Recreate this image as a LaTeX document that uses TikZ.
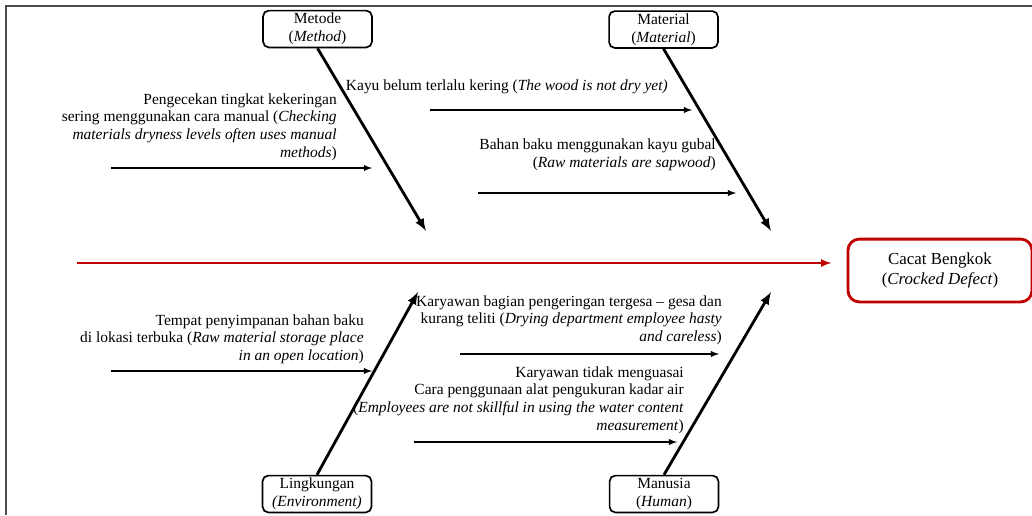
\documentclass[tikz,border=0pt]{standalone}
\usepackage{fontspec}
\setmainfont{Liberation Serif}
\usepackage{tikz}
\usetikzlibrary{shapes, arrows}

\definecolor{defectred}{RGB}{192,0,0}

\begin{document}
\begin{tikzpicture}[
    x=0.025cm, y=-0.025cm,
    >=latex,
    category/.style={rectangle, rounded corners=4pt, draw, line width=1.2pt, minimum width=2.72cm, minimum height=0.92cm, inner sep=1pt, align=center, font=\fontsize{11}{12.8}\selectfont},
    effect/.style={rectangle, rounded corners=8pt, draw=defectred, line width=2pt, minimum width=4.6cm, minimum height=1.57cm, align=center, font=\fontsize{12}{14.8}\selectfont},
    cause/.style={inner sep=0pt, anchor=east, align=right, font=\fontsize{11}{12.5}\selectfont},
    spine/.style={->, defectred, line width=1.5pt},
    bone/.style={->, line width=2pt},
    arrow/.style={->, line width=1pt}
]
    \useasboundingbox (0,0) rectangle (1032,515);
    \draw[line width=1.2pt, black!70] (6,515) -- (6,6) -- (1032,6);

    % Head
    \node[effect] (defect) at (940,270.5) {Cacat Bengkok\\(\textit{Crocked Defect})};

    % Categories
    \node[category] (metode) at (317.5,29) {Metode\\(\textit{Method})};
    \node[category] (material) at (663.5,29.5) {Material\\(\textit{Material})};
    \node[category] (lingkungan) at (317,494) {Lingkungan\\\textit{(Environment)}};
    \node[category] (manusia) at (664,494) {Manusia\\(\textit{Human})};

    % Causes
    \node[cause] (cMetode) at (337,127) {Pengecekan tingkat kekeringan\\sering menggunakan cara manual (\textit{Checking}\\\textit{materials dryness levels often uses manual}\\\textit{methods})};
    \node[cause] (cKayu) at (668,87) {Kayu belum terlalu kering (\textit{The wood is not dry yet)}};
    \node[cause] (cGubal) at (716,155) {Bahan baku menggunakan kayu gubal\\(\textit{Raw materials are sapwood})};
    \node[cause] (cLokasi) at (364,339) {Tempat penyimpanan bahan baku\\di lokasi terbuka (\textit{Raw material storage place}\\\textit{in an open location})};
    \node[cause] (cTergesa) at (722,320) {Karyawan bagian pengeringan tergesa -- gesa dan\\kurang teliti (\textit{Drying department employee hasty}\\\textit{and careless})};
    \node[cause] (cAlat) at (684,400) {Karyawan tidak menguasai\\Cara penggunaan alat pengukuran kadar air\\(\textit{Employees are not skillful in using the water content}\\\textit{measurement})};

    % Arrow ends
    \coordinate (tail) at (77,263);
    \coordinate (tipMetode) at (426,231);
    \coordinate (tipMaterial) at (771,231);
    \coordinate (tipLingkungan) at (418,292);
    \coordinate (tipManusia) at (771,292);
    \coordinate (sMetode) at (111,168);   \coordinate (eMetode) at (372,168);
    \coordinate (sKayu) at (430,110);     \coordinate (eKayu) at (692,110);
    \coordinate (sGubal) at (478,193);    \coordinate (eGubal) at (736,193);
    \coordinate (sLokasi) at (111,371);   \coordinate (eLokasi) at (372,371);
    \coordinate (sTergesa) at (460,354);  \coordinate (eTergesa) at (719,354);
    \coordinate (sAlat) at (414,442);     \coordinate (eAlat) at (677,442);

    % Arrows
    \draw[spine] (tail) -- ([xshift=-0.38cm] tail -| defect.west);
    \draw[bone] (metode.south) -- (tipMetode);
    \draw[bone] (material.south) -- (tipMaterial);
    \draw[bone] (lingkungan.north) -- (tipLingkungan);
    \draw[bone] (manusia.north) -- (tipManusia);
    \draw[arrow] (sMetode) -- (eMetode);
    \draw[arrow] (sKayu) -- (eKayu);
    \draw[arrow] (sGubal) -- (eGubal);
    \draw[arrow] (sLokasi) -- (eLokasi);
    \draw[arrow] (sTergesa) -- (eTergesa);
    \draw[arrow] (sAlat) -- (eAlat);
\end{tikzpicture}
\end{document}
